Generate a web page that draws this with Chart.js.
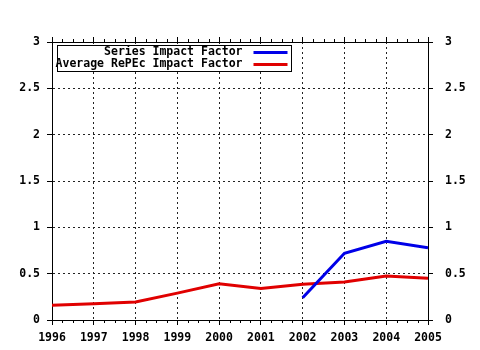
<!DOCTYPE html>
<html>
<head>
<meta charset="utf-8">
<script src="https://cdn.jsdelivr.net/npm/chart.js@4.4.1/dist/chart.umd.min.js"></script>
<style>
  html, body { margin: 0; padding: 0; background: #fff; }
  #wrap { width: 480px; height: 350px; }
</style>
</head>
<body>
<div id="wrap"><canvas id="impactChart" width="480" height="350"></canvas></div>
<script>
// values
const years = [1996, 1997, 1998, 1999, 2000, 2001, 2002, 2003, 2004, 2005];
const seriesImpact = [null, null, null, null, null, null, 0.24, 0.72, 0.85, 0.78];
const repecImpact = [0.16, 0.175, 0.195, 0.29, 0.39, 0.34, 0.385, 0.41, 0.475, 0.45];
const yTicks = [0, 0.5, 1, 1.5, 2, 2.5, 3];
const seriesNames = ['Series Impact Factor', 'Average RePEc Impact Factor'];
const seriesColors = ['#0000e8', '#e00000'];

const FONT = "bold 11.5px 'DejaVu Sans Mono', monospace";
const tickFont = { family: "'DejaVu Sans Mono', monospace", size: 11.5, weight: 'bold' };

const toPoints = arr => arr.map((v, i) => ({ x: years[i], y: v }));

// minor ticks on the x axes + legend box (gnuplot style)
const framePlugin = {
    id: 'frameExtras',
    afterDraw(chart) {
        const ctx = chart.ctx;
        const xs = chart.scales.x;
        const area = chart.chartArea;
        ctx.save();
        ctx.strokeStyle = '#000';
        ctx.lineWidth = 1;
        ctx.beginPath();
        for (let i = 0; i < years.length - 1; i++) {
            for (let q = 1; q < 4; q++) {
                const px = Math.round(xs.getPixelForValue(years[i] + q / 4)) + 0.5;
                ctx.moveTo(px, area.bottom); ctx.lineTo(px, area.bottom + 3);
                ctx.moveTo(px, area.top); ctx.lineTo(px, area.top - 3);
            }
        }
        ctx.stroke();

        // legend
        ctx.font = FONT;
        ctx.textBaseline = 'middle';
        ctx.textAlign = 'right';
        const boxL = area.left + 5.5, boxT = area.top + 3.5;
        const textR = boxL + 185;
        const lineL = textR + 11, lineR = lineL + 34;
        const boxR = lineR + 4;
        const rowH = 12;
        ctx.fillStyle = '#fff';
        ctx.fillRect(boxL, boxT, boxR - boxL, rowH * 2 + 2);
        ctx.strokeRect(boxL, boxT, boxR - boxL, rowH * 2 + 2);
        chart.data.datasets.forEach((ds, i) => {
            const y = boxT + 7 + i * rowH;
            ctx.fillStyle = '#000';
            ctx.fillText(ds.label, textR, y);
            ctx.strokeStyle = ds.borderColor;
            ctx.lineWidth = 3;
            ctx.beginPath();
            ctx.moveTo(lineL, y); ctx.lineTo(lineR, y);
            ctx.stroke();
        });
        ctx.restore();
    }
};

const gridOpts = { color: '#222', tickColor: '#000', tickLength: 5, lineWidth: 1 };
const borderOpts = { display: true, color: '#000', width: 1, dash: [2, 3] };

new Chart(document.getElementById('impactChart'), {
    type: 'line',
    data: {
        datasets: [
            { label: seriesNames[0], data: toPoints(seriesImpact), borderColor: seriesColors[0] },
            { label: seriesNames[1], data: toPoints(repecImpact), borderColor: seriesColors[1] }
        ]
    },
    options: {
        responsive: false,
        animation: false,
        devicePixelRatio: 1,
        layout: { padding: 0 },
        elements: {
            line: { borderWidth: 3, tension: 0, fill: false },
            point: { radius: 0 }
        },
        plugins: { legend: { display: false }, tooltip: { enabled: false } },
        scales: {
            x: {
                type: 'linear', position: 'bottom',
                min: years[0], max: years[years.length - 1],
                afterBuildTicks: s => { s.ticks = years.map(v => ({ value: v })); },
                ticks: { color: '#000', font: tickFont, padding: 6, maxRotation: 0, autoSkip: false,
                         callback: v => String(v) },
                grid: gridOpts, border: borderOpts,
                afterFit: s => { s.height = 30; }
            },
            x2: {
                type: 'linear', position: 'top',
                min: years[0], max: years[years.length - 1],
                afterBuildTicks: s => { s.ticks = years.map(v => ({ value: v })); },
                ticks: { display: false },
                grid: Object.assign({}, gridOpts, { drawOnChartArea: false }),
                border: { display: true, color: '#000', width: 1 },
                afterFit: s => { s.height = 42; }
            },
            y: {
                position: 'left', min: 0, max: 3,
                afterBuildTicks: s => { s.ticks = yTicks.map(v => ({ value: v })); },
                ticks: { color: '#000', font: tickFont, padding: 7, callback: v => String(v) },
                grid: gridOpts, border: borderOpts,
                afterFit: s => { s.width = 52; }
            },
            y2: {
                position: 'right', min: 0, max: 3,
                afterBuildTicks: s => { s.ticks = yTicks.map(v => ({ value: v })); },
                ticks: { color: '#000', font: tickFont, padding: 12, callback: v => String(v) },
                grid: Object.assign({}, gridOpts, { drawOnChartArea: false }),
                border: { display: true, color: '#000', width: 1 },
                afterFit: s => { s.width = 52; }
            }
        }
    },
    plugins: [framePlugin]
});
</script>
</body>
</html>
